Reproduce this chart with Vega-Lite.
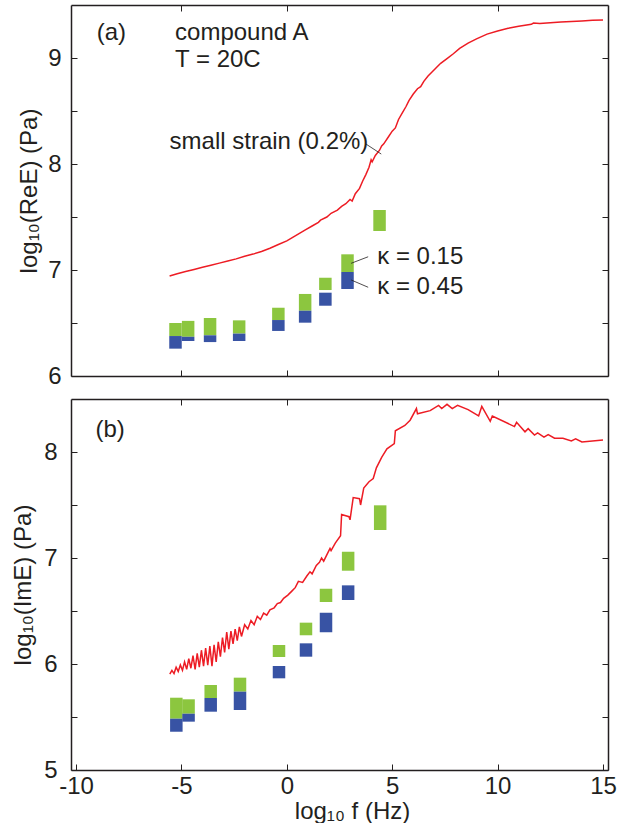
{
  "$schema": "https://vega.github.io/schema/vega-lite/v6.json",
  "padding": {"left": 11, "top": 4, "right": 10, "bottom": 0},
  "spacing": 10,
  "config": {
    "view": {"stroke": null},
    "font": "Liberation Sans",
    "axis": {
      "domainColor": "#231f20", "domainWidth": 1.5,
      "tickColor": "#231f20", "tickWidth": 1, "tickSize": -6,
      "labelFont": "Liberation Sans", "labelFontSize": 24, "labelColor": "#231f20",
      "titleFont": "Liberation Sans", "titleFontSize": 24, "titleFontWeight": "normal", "titleColor": "#231f20",
      "grid": false, "labelOverlap": false, "labelFlush": false
    }
  },
  "datasets": {
    "markers": [
      {"panel": "a", "kappa": "0.15", "f": -5.28, "lo": 6.377, "hi": 6.50},
      {"panel": "a", "kappa": "0.15", "f": -4.68, "lo": 6.37, "hi": 6.52},
      {"panel": "a", "kappa": "0.15", "f": -3.64, "lo": 6.384, "hi": 6.547},
      {"panel": "a", "kappa": "0.15", "f": -2.26, "lo": 6.40, "hi": 6.525},
      {"panel": "a", "kappa": "0.15", "f": -0.40, "lo": 6.528, "hi": 6.644},
      {"panel": "a", "kappa": "0.15", "f": 0.87, "lo": 6.616, "hi": 6.774},
      {"panel": "a", "kappa": "0.15", "f": 1.83, "lo": 6.811, "hi": 6.927},
      {"panel": "a", "kappa": "0.15", "f": 2.88, "lo": 6.981, "hi": 7.148},
      {"panel": "a", "kappa": "0.15", "f": 4.40, "lo": 7.368, "hi": 7.566},
      {"panel": "a", "kappa": "0.45", "f": -5.28, "lo": 6.258, "hi": 6.377},
      {"panel": "a", "kappa": "0.45", "f": -4.68, "lo": 6.33, "hi": 6.37},
      {"panel": "a", "kappa": "0.45", "f": -3.64, "lo": 6.32, "hi": 6.384},
      {"panel": "a", "kappa": "0.45", "f": -2.26, "lo": 6.33, "hi": 6.40},
      {"panel": "a", "kappa": "0.45", "f": -0.40, "lo": 6.425, "hi": 6.528},
      {"panel": "a", "kappa": "0.45", "f": 0.87, "lo": 6.503, "hi": 6.616},
      {"panel": "a", "kappa": "0.45", "f": 1.83, "lo": 6.663, "hi": 6.786},
      {"panel": "a", "kappa": "0.45", "f": 2.88, "lo": 6.821, "hi": 6.981},
      {"panel": "b", "kappa": "0.15", "f": -5.24, "lo": 5.484, "hi": 5.682},
      {"panel": "b", "kappa": "0.15", "f": -4.66, "lo": 5.531, "hi": 5.667},
      {"panel": "b", "kappa": "0.15", "f": -3.61, "lo": 5.679, "hi": 5.802},
      {"panel": "b", "kappa": "0.15", "f": -2.22, "lo": 5.739, "hi": 5.871},
      {"panel": "b", "kappa": "0.15", "f": -0.37, "lo": 6.066, "hi": 6.179},
      {"panel": "b", "kappa": "0.15", "f": 0.91, "lo": 6.271, "hi": 6.390},
      {"panel": "b", "kappa": "0.15", "f": 1.86, "lo": 6.585, "hi": 6.710},
      {"panel": "b", "kappa": "0.15", "f": 2.91, "lo": 6.880, "hi": 7.059},
      {"panel": "b", "kappa": "0.15", "f": 4.43, "lo": 7.264, "hi": 7.497},
      {"panel": "b", "kappa": "0.45", "f": -5.24, "lo": 5.361, "hi": 5.484},
      {"panel": "b", "kappa": "0.45", "f": -4.66, "lo": 5.456, "hi": 5.531},
      {"panel": "b", "kappa": "0.45", "f": -3.61, "lo": 5.55, "hi": 5.679},
      {"panel": "b", "kappa": "0.45", "f": -2.22, "lo": 5.566, "hi": 5.739},
      {"panel": "b", "kappa": "0.45", "f": -0.37, "lo": 5.865, "hi": 5.981},
      {"panel": "b", "kappa": "0.45", "f": 0.91, "lo": 6.069, "hi": 6.195},
      {"panel": "b", "kappa": "0.45", "f": 1.86, "lo": 6.299, "hi": 6.484},
      {"panel": "b", "kappa": "0.45", "f": 2.91, "lo": 6.604, "hi": 6.742}
    ],
    "curveA": [
      {"f": -5.56, "v": 6.943}, {"f": -5.2, "v": 6.965}, {"f": -4.8, "v": 6.985}, {"f": -4.4, "v": 7.005},
      {"f": -4.0, "v": 7.025}, {"f": -3.6, "v": 7.045}, {"f": -3.2, "v": 7.065}, {"f": -2.8, "v": 7.085},
      {"f": -2.4, "v": 7.105}, {"f": -2.0, "v": 7.13}, {"f": -1.6, "v": 7.15}, {"f": -1.2, "v": 7.175},
      {"f": -0.8, "v": 7.205}, {"f": -0.4, "v": 7.24}, {"f": 0.0, "v": 7.275}, {"f": 0.3, "v": 7.31},
      {"f": 0.6, "v": 7.345}, {"f": 0.9, "v": 7.38}, {"f": 1.2, "v": 7.415}, {"f": 1.5, "v": 7.45},
      {"f": 1.6, "v": 7.47}, {"f": 1.9, "v": 7.5}, {"f": 2.1, "v": 7.535}, {"f": 2.4, "v": 7.565},
      {"f": 2.6, "v": 7.6}, {"f": 2.8, "v": 7.625}, {"f": 3.0, "v": 7.665}, {"f": 3.1, "v": 7.65},
      {"f": 3.25, "v": 7.72}, {"f": 3.45, "v": 7.77}, {"f": 3.6, "v": 7.84}, {"f": 3.75, "v": 7.9},
      {"f": 3.9, "v": 7.97}, {"f": 4.0, "v": 8.04}, {"f": 4.05, "v": 8.02}, {"f": 4.2, "v": 8.08},
      {"f": 4.4, "v": 8.13}, {"f": 4.5, "v": 8.17}, {"f": 4.6, "v": 8.19}, {"f": 4.8, "v": 8.25},
      {"f": 5.0, "v": 8.31}, {"f": 5.15, "v": 8.34}, {"f": 5.3, "v": 8.42}, {"f": 5.5, "v": 8.49},
      {"f": 5.65, "v": 8.54}, {"f": 5.8, "v": 8.6}, {"f": 6.0, "v": 8.66}, {"f": 6.2, "v": 8.71},
      {"f": 6.35, "v": 8.73}, {"f": 6.5, "v": 8.78}, {"f": 6.7, "v": 8.83}, {"f": 6.9, "v": 8.87},
      {"f": 7.1, "v": 8.91}, {"f": 7.3, "v": 8.95}, {"f": 7.6, "v": 8.995}, {"f": 7.9, "v": 9.04},
      {"f": 8.2, "v": 9.09}, {"f": 8.6, "v": 9.14}, {"f": 9.0, "v": 9.18}, {"f": 9.5, "v": 9.225},
      {"f": 10.0, "v": 9.255}, {"f": 10.5, "v": 9.28}, {"f": 11.0, "v": 9.3}, {"f": 11.6, "v": 9.318},
      {"f": 11.7, "v": 9.33}, {"f": 12.0, "v": 9.325}, {"f": 12.5, "v": 9.333}, {"f": 13.0, "v": 9.34},
      {"f": 13.5, "v": 9.345}, {"f": 14.0, "v": 9.35}, {"f": 14.5, "v": 9.355}, {"f": 15.0, "v": 9.358}
    ],
    "curveB": [
      {"f": -5.55, "v": 5.905}, {"f": -5.45, "v": 5.94}, {"f": -5.35, "v": 5.91}, {"f": -5.25, "v": 5.97},
      {"f": -5.15, "v": 5.93}, {"f": -5.05, "v": 5.99}, {"f": -4.95, "v": 5.94}, {"f": -4.85, "v": 6.02},
      {"f": -4.75, "v": 5.95}, {"f": -4.65, "v": 6.05}, {"f": -4.55, "v": 5.96}, {"f": -4.45, "v": 6.08},
      {"f": -4.35, "v": 5.95}, {"f": -4.25, "v": 6.1}, {"f": -4.15, "v": 5.97}, {"f": -4.05, "v": 6.13},
      {"f": -3.95, "v": 5.98}, {"f": -3.85, "v": 6.15}, {"f": -3.75, "v": 5.99}, {"f": -3.65, "v": 6.17},
      {"f": -3.55, "v": 5.98}, {"f": -3.45, "v": 6.18}, {"f": -3.35, "v": 6.02}, {"f": -3.25, "v": 6.21},
      {"f": -3.15, "v": 6.07}, {"f": -3.05, "v": 6.25}, {"f": -2.95, "v": 6.11}, {"f": -2.85, "v": 6.3},
      {"f": -2.75, "v": 6.14}, {"f": -2.65, "v": 6.31}, {"f": -2.55, "v": 6.19}, {"f": -2.45, "v": 6.33},
      {"f": -2.35, "v": 6.22}, {"f": -2.25, "v": 6.35}, {"f": -2.15, "v": 6.26}, {"f": -2.0, "v": 6.37},
      {"f": -1.85, "v": 6.33}, {"f": -1.7, "v": 6.41}, {"f": -1.55, "v": 6.37}, {"f": -1.4, "v": 6.45},
      {"f": -1.25, "v": 6.42}, {"f": -1.1, "v": 6.48}, {"f": -0.95, "v": 6.46}, {"f": -0.8, "v": 6.51},
      {"f": -0.6, "v": 6.53}, {"f": -0.45, "v": 6.57}, {"f": -0.3, "v": 6.58}, {"f": -0.15, "v": 6.62},
      {"f": 0.05, "v": 6.65}, {"f": 0.25, "v": 6.69}, {"f": 0.4, "v": 6.72}, {"f": 0.55, "v": 6.78},
      {"f": 0.75, "v": 6.77}, {"f": 0.95, "v": 6.83}, {"f": 1.1, "v": 6.87}, {"f": 1.2, "v": 6.85},
      {"f": 1.4, "v": 6.93}, {"f": 1.55, "v": 6.96}, {"f": 1.65, "v": 7.0}, {"f": 1.75, "v": 6.97},
      {"f": 1.95, "v": 7.05}, {"f": 2.05, "v": 7.09}, {"f": 2.1, "v": 7.07}, {"f": 2.3, "v": 7.14},
      {"f": 2.55, "v": 7.21}, {"f": 2.6, "v": 7.41}, {"f": 2.95, "v": 7.39}, {"f": 3.0, "v": 7.36},
      {"f": 3.15, "v": 7.57}, {"f": 3.45, "v": 7.56}, {"f": 3.5, "v": 7.5}, {"f": 3.65, "v": 7.66},
      {"f": 3.9, "v": 7.72}, {"f": 4.1, "v": 7.75}, {"f": 4.25, "v": 7.85}, {"f": 4.5, "v": 7.95},
      {"f": 4.75, "v": 8.03}, {"f": 5.1, "v": 8.08}, {"f": 5.15, "v": 8.2}, {"f": 5.6, "v": 8.25},
      {"f": 5.85, "v": 8.3}, {"f": 6.15, "v": 8.41}, {"f": 6.2, "v": 8.36}, {"f": 6.8, "v": 8.39},
      {"f": 7.2, "v": 8.44}, {"f": 7.35, "v": 8.41}, {"f": 7.6, "v": 8.45}, {"f": 7.85, "v": 8.41},
      {"f": 8.1, "v": 8.44}, {"f": 8.6, "v": 8.4}, {"f": 9.1, "v": 8.34}, {"f": 9.25, "v": 8.43},
      {"f": 9.65, "v": 8.29}, {"f": 9.75, "v": 8.34}, {"f": 10.8, "v": 8.24}, {"f": 10.9, "v": 8.28},
      {"f": 11.3, "v": 8.19}, {"f": 11.45, "v": 8.22}, {"f": 11.75, "v": 8.16}, {"f": 11.9, "v": 8.18},
      {"f": 12.2, "v": 8.14}, {"f": 12.4, "v": 8.165}, {"f": 12.7, "v": 8.13}, {"f": 13.1, "v": 8.13},
      {"f": 13.5, "v": 8.105}, {"f": 13.7, "v": 8.125}, {"f": 14.0, "v": 8.095}, {"f": 15.0, "v": 8.113}
    ],
    "labels": [
      {"panel": "a", "f": -9.02, "v": 9.236, "text": "(a)"},
      {"panel": "a", "f": -5.3, "v": 9.236, "text": "compound A"},
      {"panel": "a", "f": -5.3, "v": 8.98, "text": "T = 20C"},
      {"panel": "a", "f": -5.56, "v": 8.21, "text": "small strain (0.2%)"},
      {"panel": "a", "f": 4.29, "v": 7.125, "text": "κ = 0.15"},
      {"panel": "a", "f": 4.29, "v": 6.837, "text": "κ = 0.45"},
      {"panel": "b", "f": -9.08, "v": 8.208, "text": "(b)"}
    ],
    "leaders": [
      {"f": 3.75, "v": 8.189, "f2": 4.48, "v2": 8.094},
      {"f": 3.86, "v": 7.125, "f2": 3.05, "v2": 7.063},
      {"f": 3.05, "v": 6.906, "f2": 3.86, "v2": 6.837}
    ]
  },
  "vconcat": [
    {
      "width": 537, "height": 371,
      "resolve": {"axis": {"x": "independent", "y": "independent"}},
      "layer": [
        {
          "data": {"name": "markers"},
          "transform": [{"filter": "datum.panel === 'a' && datum.kappa === '0.15'"}],
          "mark": {"type": "bar", "width": 12.5, "color": "#8cc63f"},
          "encoding": {
            "x": {"field": "f", "type": "quantitative", "scale": {"domain": [-10, 15], "nice": false, "zero": false},
                  "axis": {"orient": "bottom", "values": [-5, 0, 5, 10], "labels": false, "title": null}},
            "y": {"field": "lo", "type": "quantitative", "scale": {"domain": [6, 9.5], "nice": false, "zero": false},
                  "axis": {"orient": "left", "values": [6, 6.5, 7, 7.5, 8, 8.5, 9], "labelExpr": "datum.value % 1 ? '' : '' + datum.value",
                           "labelPadding": 16, "title": "log₁₀(ReE) (Pa)", "titlePadding": 6}},
            "y2": {"field": "hi"}
          }
        },
        {
          "data": {"name": "markers"},
          "transform": [{"filter": "datum.panel === 'a' && datum.kappa === '0.45'"}],
          "mark": {"type": "bar", "width": 12.5, "color": "#3853a4"},
          "encoding": {
            "x": {"field": "f", "type": "quantitative", "axis": null},
            "y": {"field": "lo", "type": "quantitative", "axis": null},
            "y2": {"field": "hi"}
          }
        },
        {
          "data": {"name": "curveA"},
          "mark": {"type": "line", "color": "#ed1c24", "strokeWidth": 1.5},
          "encoding": {
            "x": {"field": "f", "type": "quantitative",
                  "axis": {"orient": "top", "values": [-5, 0, 5, 10], "labels": false, "title": null}},
            "y": {"field": "v", "type": "quantitative",
                  "axis": {"orient": "right", "values": [6, 6.5, 7, 7.5, 8, 8.5, 9], "labels": false, "title": null}}
          }
        },
        {
          "data": {"name": "leaders"},
          "mark": {"type": "rule", "color": "#231f20", "strokeWidth": 0.8},
          "encoding": {
            "x": {"field": "f", "type": "quantitative", "axis": null},
            "y": {"field": "v", "type": "quantitative", "axis": null},
            "x2": {"field": "f2"},
            "y2": {"field": "v2"}
          }
        },
        {
          "data": {"name": "labels"},
          "transform": [{"filter": "datum.panel === 'a'"}],
          "mark": {"type": "text", "align": "left", "baseline": "middle", "fontSize": 24, "color": "#231f20", "font": "Liberation Sans"},
          "encoding": {
            "x": {"field": "f", "type": "quantitative", "axis": null},
            "y": {"field": "v", "type": "quantitative", "axis": null},
            "text": {"field": "text"}
          }
        }
      ]
    },
    {
      "width": 537, "height": 371,
      "resolve": {"axis": {"x": "independent", "y": "independent"}},
      "layer": [
        {
          "data": {"name": "markers"},
          "transform": [{"filter": "datum.panel === 'b' && datum.kappa === '0.15'"}],
          "mark": {"type": "bar", "width": 12.5, "color": "#8cc63f"},
          "encoding": {
            "x": {"field": "f", "type": "quantitative", "scale": {"domain": [-10, 15], "nice": false, "zero": false},
                  "axis": {"orient": "bottom", "values": [-10, -5, 0, 5, 10, 15], "labelExpr": "'' + datum.value",
                           "labelPadding": 10, "title": "log₁₀ f (Hz)", "titleX": 281, "titleY": 29, "titleBaseline": "top"}},
            "y": {"field": "lo", "type": "quantitative", "scale": {"domain": [5, 8.5], "nice": false, "zero": false},
                  "axis": {"orient": "left", "values": [5, 5.5, 6, 6.5, 7, 7.5, 8], "labelExpr": "datum.value % 1 ? '' : '' + datum.value",
                           "labelPadding": 20, "title": "log₁₀(ImE) (Pa)", "titlePadding": 8}},
            "y2": {"field": "hi"}
          }
        },
        {
          "data": {"name": "markers"},
          "transform": [{"filter": "datum.panel === 'b' && datum.kappa === '0.45'"}],
          "mark": {"type": "bar", "width": 12.5, "color": "#3853a4"},
          "encoding": {
            "x": {"field": "f", "type": "quantitative", "axis": null},
            "y": {"field": "lo", "type": "quantitative", "axis": null},
            "y2": {"field": "hi"}
          }
        },
        {
          "data": {"name": "curveB"},
          "mark": {"type": "line", "color": "#ed1c24", "strokeWidth": 1.5},
          "encoding": {
            "x": {"field": "f", "type": "quantitative",
                  "axis": {"orient": "top", "values": [-5, 0, 5, 10], "labels": false, "title": null}},
            "y": {"field": "v", "type": "quantitative",
                  "axis": {"orient": "right", "values": [5, 5.5, 6, 6.5, 7, 7.5, 8], "labels": false, "title": null}}
          }
        },
        {
          "data": {"name": "labels"},
          "transform": [{"filter": "datum.panel === 'b'"}],
          "mark": {"type": "text", "align": "left", "baseline": "middle", "fontSize": 24, "color": "#231f20", "font": "Liberation Sans"},
          "encoding": {
            "x": {"field": "f", "type": "quantitative", "axis": null},
            "y": {"field": "v", "type": "quantitative", "axis": null},
            "text": {"field": "text"}
          }
        }
      ]
    }
  ]
}
